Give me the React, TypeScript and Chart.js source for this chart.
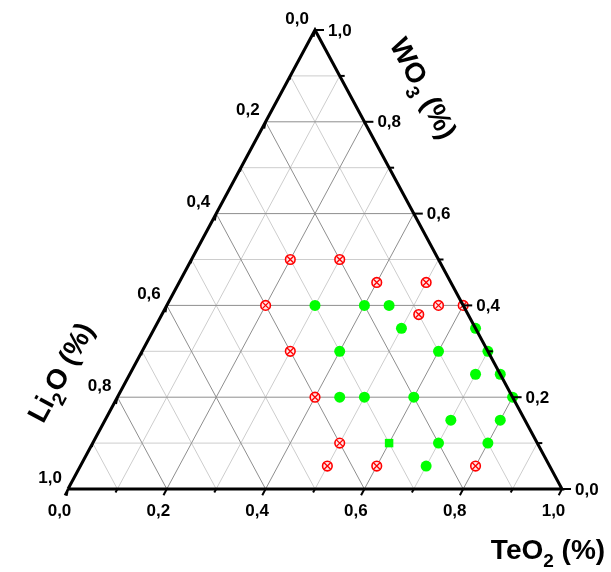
import React, { useEffect, useRef } from "react";
import { Chart, registerables } from "chart.js";

Chart.register(...registerables);

// ---- axis ticks ----
const tickValues = [0, 0.1, 0.2, 0.3, 0.4, 0.5, 0.6, 0.7, 0.8, 0.9, 1.0];
const majorTicks = [0, 0.2, 0.4, 0.6, 0.8, 1.0];
const majorTickLabels = ["0,0", "0,2", "0,4", "0,6", "0,8", "1,0"];
const gridValues = [0.1, 0.2, 0.3, 0.4, 0.5, 0.6, 0.7, 0.8, 0.9];

// ---- compositions (fractions): green = glass (filled circles) ----
const greenTeO2 = [0.3, 0.4, 0.45, 0.5, 0.65, 0.4, 0.6, 0.7, 0.7, 0.75, 0.45, 0.5, 0.6, 0.8, 0.7, 0.8, 0.7, 0.8, 0.7];
const greenWO3 = [0.4, 0.4, 0.4, 0.35, 0.35, 0.3, 0.3, 0.3, 0.25, 0.25, 0.2, 0.2, 0.2, 0.2, 0.15, 0.15, 0.1, 0.1, 0.05];
const greenLi2O = [0.3, 0.2, 0.15, 0.15, 0.0, 0.3, 0.1, 0.0, 0.05, 0.0, 0.35, 0.3, 0.2, 0.0, 0.15, 0.05, 0.2, 0.1, 0.25];

// green square
const squareTeO2 = [0.6];
const squareWO3 = [0.1];
const squareLi2O = [0.3];

// red = crystallised (circled cross)
const redTeO2 = [0.2, 0.3, 0.4, 0.5, 0.2, 0.55, 0.6, 0.52, 0.3, 0.4, 0.5, 0.5, 0.6, 0.8];
const redWO3 = [0.5, 0.5, 0.45, 0.45, 0.4, 0.4, 0.4, 0.38, 0.3, 0.2, 0.1, 0.05, 0.05, 0.05];
const redLi2O = [0.3, 0.2, 0.15, 0.05, 0.4, 0.05, 0.0, 0.1, 0.4, 0.4, 0.4, 0.45, 0.35, 0.15];

const FONT = '"Liberation Sans", Arial, sans-serif';

function toXY(t: number, w: number, l: number) {
  const s = t + w + l;
  const tt = t / s;
  const ww = w / s;
  return { x: tt + ww / 2, y: ww };
}

function series(ts: number[], ws: number[], ls: number[]) {
  return ts.map((t, i) => toXY(t, ws[i], ls[i]));
}

function drawRich(
  ctx: CanvasRenderingContext2D,
  parts: { text: string; sub?: boolean }[],
  cx: number,
  cy: number,
  angle: number,
  size: number
) {
  ctx.save();
  ctx.translate(cx, cy);
  ctx.rotate(angle);
  const subSize = Math.round(size * 0.68);
  let total = 0;
  const widths = parts.map((p) => {
    ctx.font = `bold ${p.sub ? subSize : size}px ${FONT}`;
    const w = ctx.measureText(p.text).width;
    total += w;
    return w;
  });
  let x = -total / 2;
  ctx.textAlign = "left";
  ctx.textBaseline = "alphabetic";
  ctx.fillStyle = "#000";
  const base = size * 0.36;
  parts.forEach((p, i) => {
    ctx.font = `bold ${p.sub ? subSize : size}px ${FONT}`;
    ctx.fillText(p.text, x, base + (p.sub ? size * 0.3 : 0));
    x += widths[i];
  });
  ctx.restore();
}

const ternaryAxes = {
  id: "ternaryAxes",
  afterDraw(chart: any) {
    const ctx: CanvasRenderingContext2D = chart.ctx;
    const xs = chart.scales.x;
    const ys = chart.scales.y;
    const px = (t: number, w: number, l: number) => {
      const p = toXY(t, w, l);
      return { x: xs.getPixelForValue(p.x), y: ys.getPixelForValue(p.y) };
    };
    const isMajor = (v: number) => Math.abs(v * 5 - Math.round(v * 5)) < 1e-6;
    ctx.save();
    ctx.strokeStyle = "#000";
    ctx.lineWidth = 2;
    ctx.lineCap = "butt";
    const a = px(0, 1, 0);
    const b = px(0, 0, 1);
    const dl = Math.hypot(b.x - a.x, b.y - a.y);
    const bdx = (b.x - a.x) / dl;
    const bdy = (b.y - a.y) / dl;
    tickValues.forEach((v) => {
      const len = isMajor(v) ? 7 : 4;
      const pb = px(v, 0, 1 - v);
      ctx.beginPath();
      ctx.moveTo(pb.x, pb.y);
      ctx.lineTo(pb.x + bdx * len, pb.y + bdy * len);
      ctx.stroke();
      const pr = px(1 - v, v, 0);
      ctx.beginPath();
      ctx.moveTo(pr.x, pr.y);
      ctx.lineTo(pr.x + (isMajor(v) ? 9 : 5), pr.y);
      ctx.stroke();
      const pl = px(0, 1 - v, v);
      ctx.beginPath();
      ctx.moveTo(pl.x, pl.y);
      ctx.lineTo(pl.x - 0.2 * len, pl.y + 0.98 * len);
      ctx.stroke();
    });
    ctx.restore();

    ctx.save();
    ctx.fillStyle = "#000";
    ctx.font = `bold 17px ${FONT}`;
    majorTicks.forEach((v, i) => {
      const label = majorTickLabels[i];
      const pb = px(v, 0, 1 - v);
      ctx.textAlign = "center";
      ctx.textBaseline = "middle";
      ctx.fillText(label, pb.x - 8.5, pb.y + 22);
      const pr = px(1 - v, v, 0);
      ctx.textAlign = "left";
      ctx.fillText(label, pr.x + 13, pr.y + 1);
      const pl = px(0, 1 - v, v);
      ctx.textAlign = "right";
      ctx.fillText(label, pl.x - 6, pl.y - 11);
    });
    ctx.restore();

    const ang = Math.atan2(b.y - a.y, a.x - b.x);
    drawRich(ctx, [{ text: "TeO" }, { text: "2", sub: true }, { text: " (%)" }], 548, 549, 0, 28);
    drawRich(ctx, [{ text: "WO" }, { text: "3", sub: true }, { text: " (%)" }], 424, 88, ang, 28);
    drawRich(ctx, [{ text: "Li" }, { text: "2", sub: true }, { text: "O (%)" }], 60, 372, -ang, 28);
  },
};

export default function App() {
  const ref = useRef<HTMLCanvasElement>(null);
  useEffect(() => {
    if (!ref.current) return;
    const grid: any[] = [];
    gridValues.forEach((v) => {
      const major = Math.abs(v * 5 - Math.round(v * 5)) < 1e-6;
      const color = major ? "#8e8e8e" : "#cdcdcd";
      const lines = [
        [toXY(v, 0, 1 - v), toXY(v, 1 - v, 0)],
        [toXY(0, v, 1 - v), toXY(1 - v, v, 0)],
        [toXY(1 - v, 0, v), toXY(0, 1 - v, v)],
      ];
      lines.forEach((d) =>
        grid.push({
          data: d,
          showLine: true,
          borderColor: color,
          borderWidth: 1,
          pointRadius: 0,
          order: major ? 3 : 4,
          clip: false,
        })
      );
    });
    const edge = {
      data: [toXY(0, 0, 1), toXY(1, 0, 0), toXY(0, 1, 0), toXY(0, 0, 1)],
      showLine: true,
      borderColor: "#000",
      borderWidth: 3,
      borderJoinStyle: "miter",
      pointRadius: 0,
      order: 0,
      clip: false,
    };
    const green = {
      data: series(greenTeO2, greenWO3, greenLi2O),
      pointStyle: "circle",
      pointRadius: 5.5,
      backgroundColor: "#00ff00",
      borderColor: "#00ff00",
      borderWidth: 0,
      order: 1,
      clip: false,
    };
    const square = {
      data: series(squareTeO2, squareWO3, squareLi2O),
      pointStyle: "rect",
      pointRadius: 6,
      backgroundColor: "#00ff00",
      borderColor: "#00ff00",
      borderWidth: 0,
      order: 1,
      clip: false,
    };
    const redCircle = {
      data: series(redTeO2, redWO3, redLi2O),
      pointStyle: "circle",
      pointRadius: 4.8,
      backgroundColor: "#ffe6e6",
      borderColor: "#ff0000",
      borderWidth: 1.6,
      order: 2,
      clip: false,
    };
    const redCross = {
      data: series(redTeO2, redWO3, redLi2O),
      pointStyle: "crossRot",
      pointRadius: 4.6,
      backgroundColor: "#ff0000",
      borderColor: "#ff0000",
      borderWidth: 1.3,
      order: 1,
      clip: false,
    };
    const chart = new Chart(ref.current, {
      type: "scatter",
      data: { datasets: [edge, green, square, redCross, redCircle, ...grid] as any },
      options: {
        responsive: false,
        animation: false,
        events: [],
        layout: { padding: { left: 68, right: 49, top: 30, bottom: 83 } },
        scales: {
          x: { type: "linear", min: 0, max: 1, display: false },
          y: { type: "linear", min: 0, max: 1, display: false },
        },
        plugins: { legend: { display: false }, tooltip: { enabled: false } },
      },
      plugins: [ternaryAxes],
    });
    return () => chart.destroy();
  }, []);
  return (
    <div style={{ position: "absolute", left: 0, top: 0, width: 611, height: 572, background: "#fff" }}>
      <canvas ref={ref} width={611} height={572} style={{ display: "block" }} />
    </div>
  );
}
